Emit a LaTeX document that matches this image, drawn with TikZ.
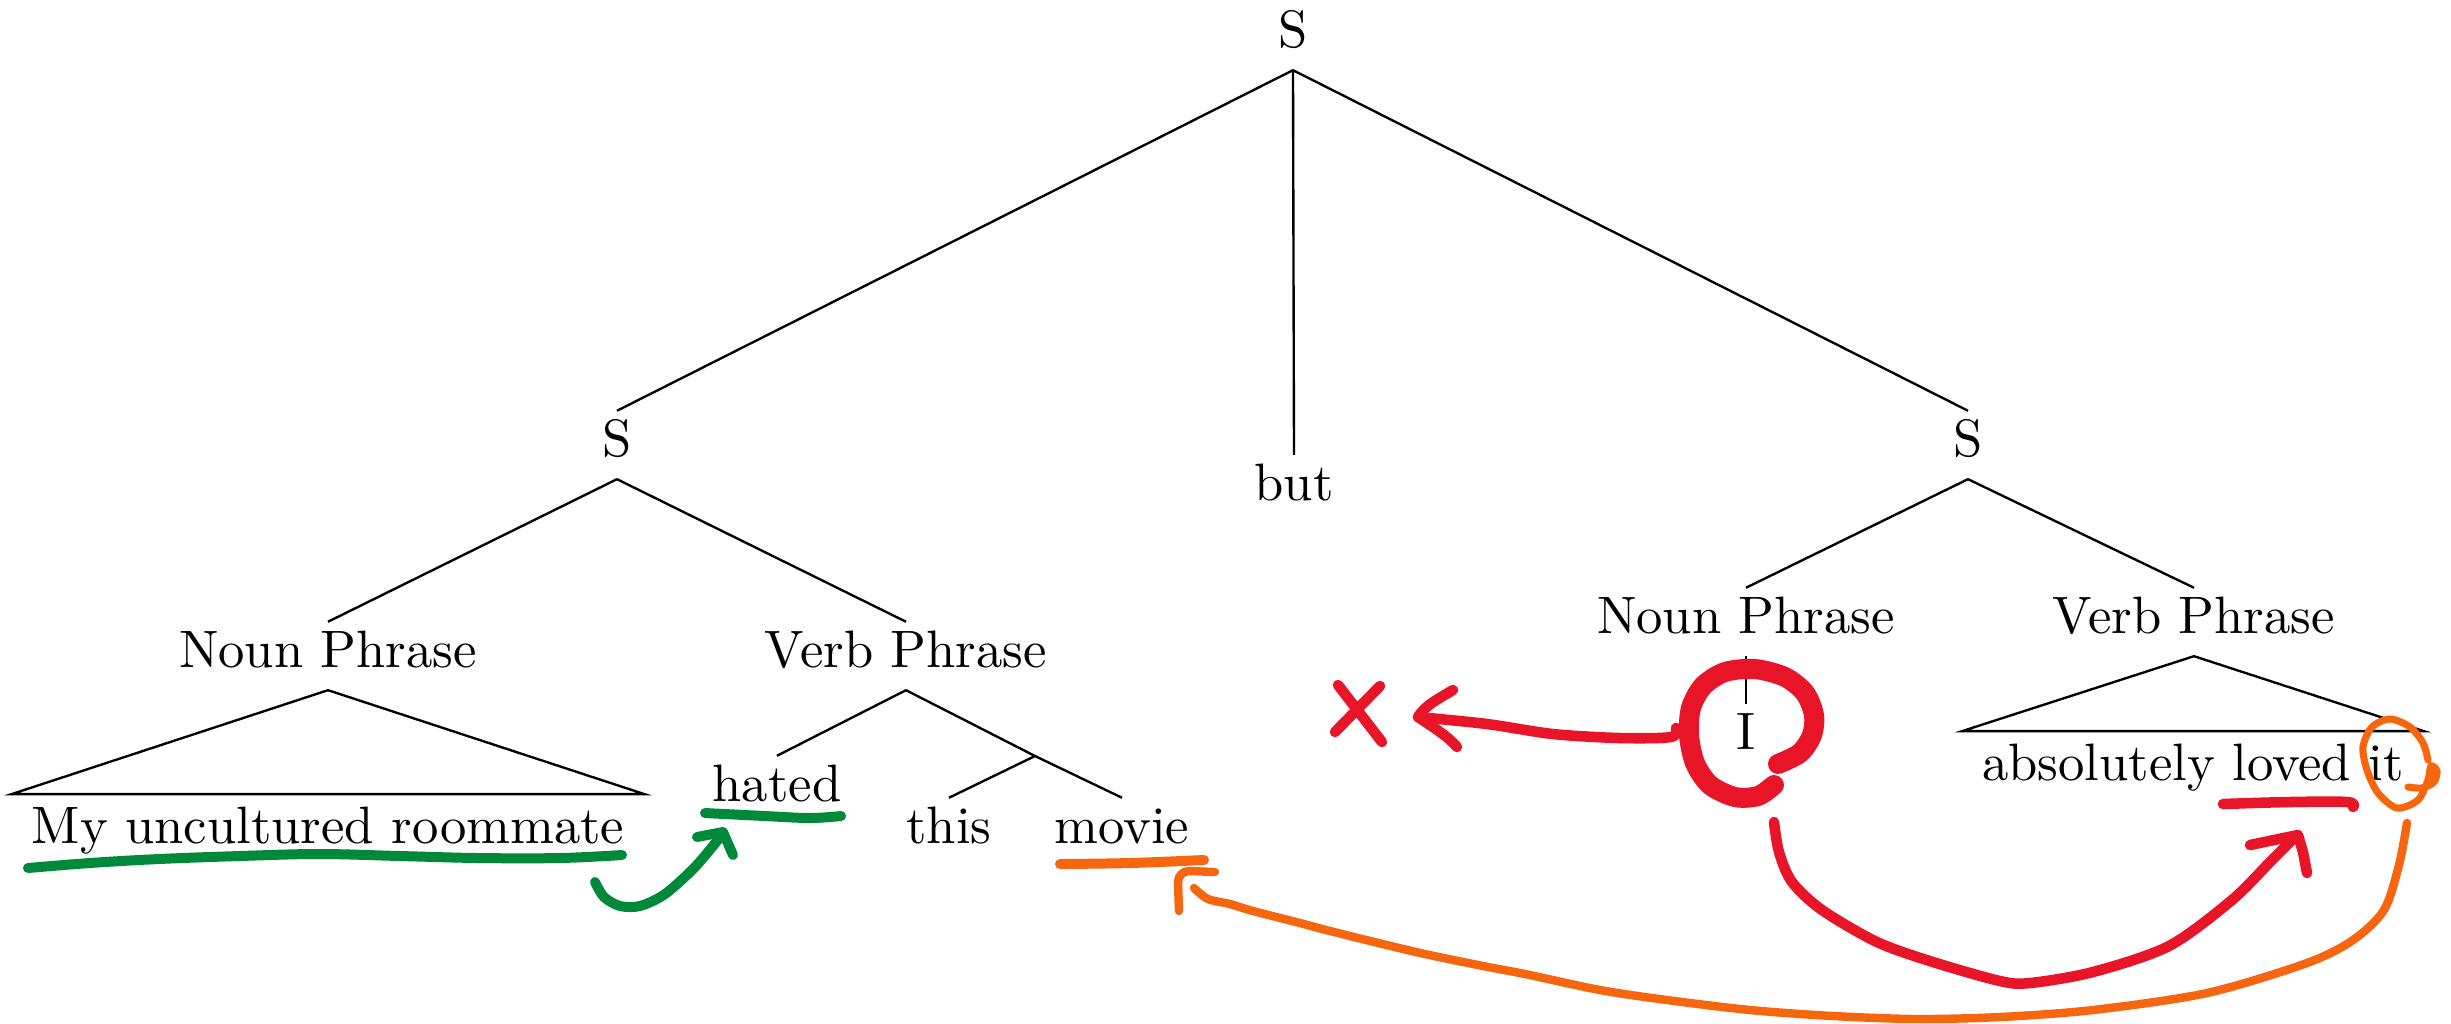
\documentclass[tikz,border=0pt]{standalone}
\usetikzlibrary{calc}
\definecolor{annGreen}{RGB}{0,137,58}
\definecolor{annRed}{RGB}{232,21,41}
\definecolor{annOrange}{RGB}{246,102,15}
\tikzset{
  tn/.style={anchor=base, inner xsep=0pt, inner ysep=0pt, outer sep=0pt, text height=8.6pt, text depth=4.4pt},
  roofleaf/.style={anchor=base, inner xsep=3.8pt, inner ysep=0pt, outer sep=0pt, text height=9.3pt, text depth=0pt},
  treeedge/.style={line width=0.45pt, line join=miter},
  pen/.style={line cap=round, line join=round},
  gstroke/.style={pen, draw=annGreen, line width=1.9pt},
  ostroke/.style={pen, draw=annOrange, line width=1.6pt},
  othin/.style={pen, draw=annOrange, line width=1.35pt},
  rstroke/.style={pen, draw=annRed, line width=2.0pt},
  rthick/.style={pen, draw=annRed, line width=3.8pt},
}
\begin{document}
\begin{tikzpicture}[x=0.19pt,y=-0.19pt]
\useasboundingbox (0,0) rectangle (2451,1023);
% tree nodes
\node[tn] (S0) at (1293,47) {S};
\node[tn] (S1) at (617,456) {S};
\node[tn] (but) at (1294,500) {but};
\node[tn] (S2) at (1968,456) {S};
\node[tn] (NP1) at (328,667) {Noun Phrase};
\node[tn] (VP1) at (906,667) {Verb Phrase};
\node[roofleaf] (L1) at (328,843) {My uncultured roommate};
\node[tn] (hated) at (777,801) {hated};
\coordinate (VPm) at (1035,756);
\node[tn] (this) at (949,843) {this};
\node[tn] (movie) at (1122,843) {movie};
\node[tn] (NP2) at (1746,633) {Noun Phrase};
\node[tn] (VP2) at (2194,633) {Verb Phrase};
\node[tn] (I) at (1746,749) {I};
\node[roofleaf] (L2) at (2193,780) {absolutely loved it};
% tree edges
\draw[treeedge] (S0.south) -- (S1.north);
\draw[treeedge] (S0.south) -- (but.north);
\draw[treeedge] (S0.south) -- (S2.north);
\draw[treeedge] (S1.south) -- (NP1.north);
\draw[treeedge] (S1.south) -- (VP1.north);
\draw[treeedge] (S2.south) -- (NP2.north);
\draw[treeedge] (S2.south) -- (VP2.north);
\draw[treeedge] (NP1.south) -- (L1.north west) -- (L1.north east) -- cycle;
\draw[treeedge] (VP1.south) -- (hated.north);
\draw[treeedge] (VP1.south) -- (VPm) -- (this.north);
\draw[treeedge] (VPm) -- (movie.north);
\draw[treeedge] (NP2.south) -- (I.north);
\draw[treeedge] (VP2.south) -- (L2.north west) -- (L2.north east) -- cycle;
% green annotations
\draw[gstroke] plot[smooth, tension=0.6] coordinates {(28,868) (90,863) (159,859) (240,856) (319,854) (400,856) (478,858) (560,858) (622,855)};
\draw[gstroke] plot[smooth, tension=0.6] coordinates {(705,813) (765,816) (810,818) (841,816)};
\draw[gstroke] plot[smooth] coordinates {(595,882) (604,897) (620,906) (640,906) (665,894) (695,867) (721,836)};
\draw[gstroke] (697,837) -- (723,832) -- (733,855);
% orange annotations
\draw[ostroke, line width=1.9pt] plot[smooth, tension=0.6] coordinates {(1060,864) (1130,863) (1204,860)};
\draw[ostroke] (1215,872) -- (1189,871) to[out=180,in=90] (1178,882) -- (1179,911);
\draw[ostroke] plot[smooth] coordinates {(1194,888) (1208,899) (1230,904) (1253,911) (1300,923) (1330,931) (1416,952) (1483,966) (1525,974) (1600,990) (1667,1000) (1750,1010) (1833,1016) (1917,1019) (2000,1017) (2093,1010) (2207,993) (2307,963) (2353,940) (2384,910) (2399,865) (2407,823)};
\draw[othin] plot[smooth] coordinates {(2428,760) (2423,743) (2410,727) (2390,719) (2372,727) (2363,747) (2367,770) (2378,793) (2397,808) (2418,800) (2428,780) (2431,766) (2437,771) (2434,782) (2422,788) (2408,787)};
% red annotations
\draw[rthick] plot[smooth] coordinates {(1778,764) (1800,753) (1812,735) (1814,715) (1805,693) (1785,677) (1755,669) (1725,672) (1703,686) (1691,708) (1689,735) (1695,763) (1710,785) (1735,797) (1758,796) (1774,785)};
\draw[rstroke] plot[smooth] coordinates {(1676,728) (1671,737) (1620,738) (1553,734) (1487,724) (1418,717)};
\draw[rstroke] (1453,690) .. controls (1440,698) and (1425,705) .. (1418,717) .. controls (1428,724) and (1447,735) .. (1457,747);
\draw[rstroke] (1338,685) -- (1382,742) (1380,686) -- (1335,732);
\draw[rstroke] plot[smooth, tension=0.6] coordinates {(2223,804) (2290,802) (2347,802) (2353,807)};
\draw[rstroke] plot[smooth] coordinates {(1774,822) (1779,852) (1792,882) (1822,910) (1877,942) (1933,962) (2000,981) (2030,983) (2093,972) (2169,946) (2232,900) (2270,862) (2292,840)};
\draw[rstroke] (2250,845) -- (2298,835) -- (2303,852) -- (2307,873);
\end{tikzpicture}
\end{document}
